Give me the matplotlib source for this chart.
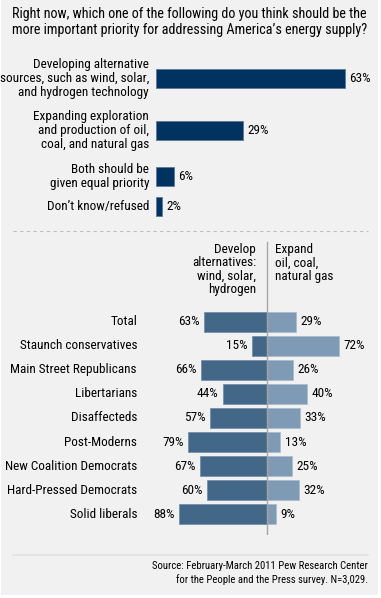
import matplotlib.pyplot as plt
import matplotlib.patches as patches

W, H = 381, 598
DPI = 100

plt.rcParams['font.family'] = ['Roboto Condensed', 'Liberation Sans Narrow', 'Lato', 'DejaVu Sans']

title = "Right now, which one of the following do you think should be the\nmore important priority for addressing America\u2019s energy supply?"

top_labels = ["Developing alternative\nsources, such as wind, solar,\nand hydrogen technology",
              "Expanding exploration\nand production of oil,\ncoal, and natural gas",
              "Both should be\ngiven equal priority",
              "Don\u2019t know/refused"]
top_values = [63, 29, 6, 2]

groups = ["Total", "Staunch conservatives", "Main Street Republicans", "Libertarians",
          "Disaffecteds", "Post-Moderns", "New Coalition Democrats",
          "Hard-Pressed Democrats", "Solid liberals"]
develop = [63, 15, 66, 44, 57, 79, 67, 60, 88]
expand = [29, 72, 26, 40, 33, 13, 25, 32, 9]

source = "Source: February-March 2011 Pew Research Center\nfor the People and the Press survey. N=3,029."

BG = '#f1f1f1'
NAVY = '#00335f'
DARK = '#426789'
LIGHT = '#7e9ab5'
TXT = '#000000'


def box(x0, y0, x1, y1):
    # pixel box (top-left origin) -> figure fraction rect
    return [x0 / W, 1 - y1 / H, (x1 - x0) / W, (y1 - y0) / H]


fig = plt.figure(figsize=(W / DPI, H / DPI), dpi=DPI, facecolor='white')
fig.patches.append(patches.Rectangle((1 / W, 3 / H), 377 / W, 595 / H,
                                     transform=fig.transFigure, facecolor=BG,
                                     edgecolor='none', zorder=-5))

fig.text(12 / W, 1 - 7 / H, title, ha='left', va='top', fontsize=10.2,
         color=TXT, linespacing=1.2)

# top chart
ax1 = fig.add_axes(box(156, 60, 366, 225))
ax1.set_xlim(0, 70)
ax1.set_ylim(225, 60)
ax1.axis('off')
top_y = [78.5, 130.5, 176.5, 206.5]
ax1.barh(top_y, top_values, height=19, color=NAVY, edgecolor='#5b7896', linewidth=0.6)
for y, v, lab in zip(top_y, top_values, top_labels):
    ax1.text(v + 1.5, y, f"{v}%", ha='left', va='center', fontsize=9.5, color=TXT)
    ax1.text(-2.3, y, lab, ha='right', va='center', fontsize=9.5, color=TXT,
             linespacing=1.1, clip_on=False)

# dashed separator
fig.add_artist(plt.Line2D([13 / W, 368 / W], [1 - 231 / H, 1 - 231 / H],
                          color='#bdbdbd', linestyle=(0, (3, 3)), linewidth=0.8))

# bottom chart
ax2 = fig.add_axes(box(166.7, 240, 366.7, 535))
ax2.set_xlim(-100, 100)
ax2.set_ylim(535, 240)
ax2.axis('off')
rows = [321.5 + 24.1 * i for i in range(len(groups))]
ax2.barh(rows, [-d for d in develop], height=20, color=DARK, edgecolor='#6d8aa6', linewidth=0.5)
ax2.barh(rows, expand, height=20, color=LIGHT, edgecolor='#a8bbcd', linewidth=0.5)
ax2.plot([0, 0], [242, 534], color='#a6a6a6', linewidth=1, zorder=3)
for y, g, d, e in zip(rows, groups, develop, expand):
    ax2.text(-129.7, y, g, ha='right', va='center', fontsize=9.5, color=TXT, clip_on=False)
    ax2.text(-d - 4, y, f"{d}%", ha='right', va='center', fontsize=9.5, color=TXT)
    ax2.text(e + 5, y, f"{e}%", ha='left', va='center', fontsize=9.5, color=TXT)
ax2.text(-10.5, 243, "Develop\nalternatives:\nwind, solar,\nhydrogen", ha='right', va='top',
         fontsize=9.5, color=TXT, linespacing=1.05)
ax2.text(8.3, 243, "Expand\noil, coal,\nnatural gas", ha='left', va='top',
         fontsize=9.5, color=TXT, linespacing=1.05)

# bottom rule and source
fig.add_artist(plt.Line2D([13 / W, 368 / W], [1 - 555 / H, 1 - 555 / H],
                          color='#e2e2e2', linewidth=1.2))
fig.text(368 / W, 1 - 561 / H, source, ha='right', va='top', fontsize=7.7,
         color=TXT, linespacing=1.3)

fig.savefig('out.png', dpi=DPI, facecolor='white')
